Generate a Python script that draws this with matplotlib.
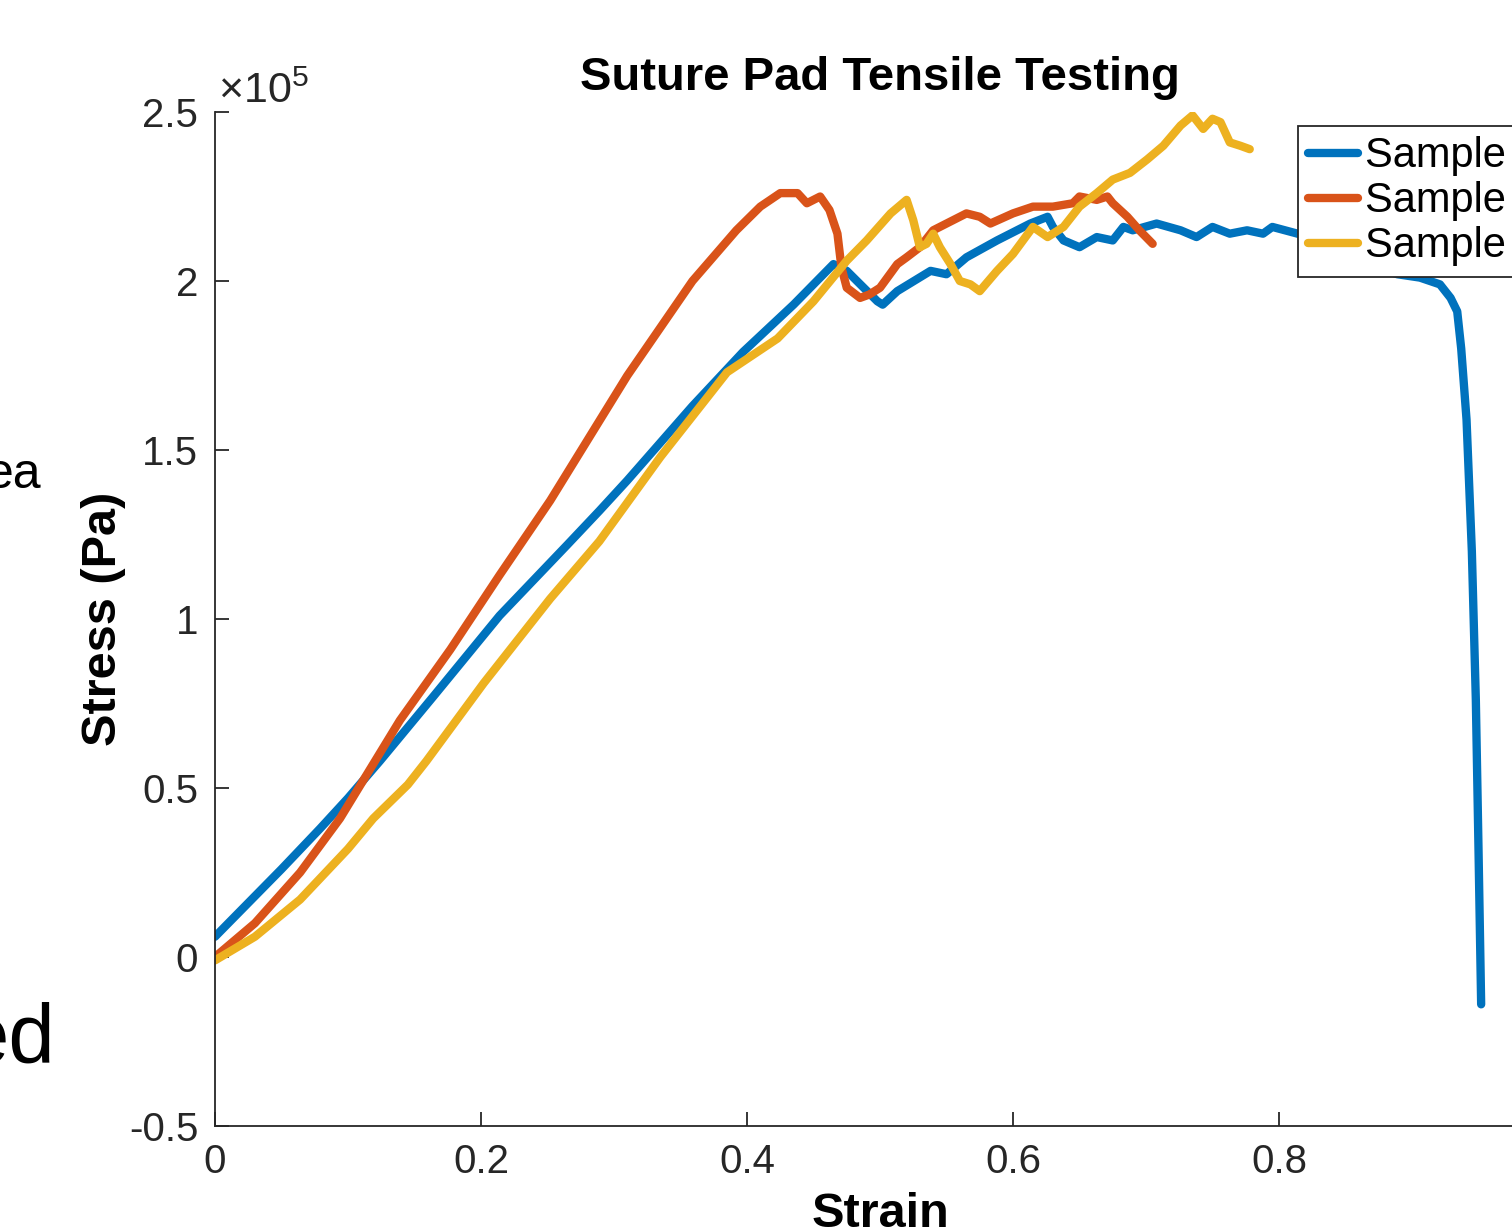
"""Suture pad tensile test: stress-strain curves for three samples."""

import matplotlib
matplotlib.use("Agg")
import matplotlib.pyplot as plt

plt.rcParams["font.family"] = ["Liberation Sans", "DejaVu Sans"]
plt.rcParams["mathtext.fontset"] = "custom"
plt.rcParams["mathtext.rm"] = "Liberation Sans"

# strain (-) and stress (x1e5 Pa)
s1_strain = [0, 0.02, 0.05, 0.079, 0.10, 0.124, 0.164, 0.214, 0.265, 0.289,
             0.31, 0.359, 0.397, 0.435, 0.465, 0.475, 0.498, 0.502, 0.513, 0.538,
             0.550, 0.565, 0.588, 0.613, 0.626, 0.630, 0.638, 0.650, 0.663, 0.675,
             0.683, 0.690, 0.708, 0.726, 0.738, 0.750, 0.763, 0.776, 0.788, 0.795,
             0.814, 0.84, 0.865, 0.889, 0.906, 0.921, 0.929, 0.934, 0.937, 0.941,
             0.945, 0.948, 0.950, 0.952]
s1_stress = [0.06, 0.14, 0.26, 0.38, 0.47, 0.58, 0.77, 1.01, 1.22, 1.32,
             1.41, 1.63, 1.79, 1.93, 2.05, 2.03, 1.94, 1.93, 1.97, 2.03,
             2.02, 2.07, 2.12, 2.17, 2.19, 2.16, 2.12, 2.10, 2.13, 2.12,
             2.16, 2.15, 2.17, 2.15, 2.13, 2.16, 2.14, 2.15, 2.14, 2.16,
             2.14, 2.10, 2.05, 2.02, 2.01, 1.99, 1.95, 1.91, 1.80, 1.59,
             1.20, 0.76, 0.32, -0.14]

s2_strain = [0, 0.03, 0.064, 0.094, 0.139, 0.177, 0.214, 0.252, 0.310, 0.359,
             0.392, 0.41, 0.425, 0.438, 0.445, 0.455, 0.462, 0.468, 0.471, 0.475,
             0.485, 0.492, 0.500, 0.513, 0.520, 0.530, 0.540, 0.550, 0.565, 0.575,
             0.583, 0.600, 0.615, 0.630, 0.645, 0.650, 0.663, 0.671, 0.675, 0.686,
             0.695, 0.705]
s2_stress = [0.0, 0.10, 0.25, 0.41, 0.70, 0.91, 1.13, 1.35, 1.72, 2.00,
             2.15, 2.22, 2.26, 2.26, 2.23, 2.25, 2.21, 2.14, 2.04, 1.98,
             1.95, 1.96, 1.98, 2.05, 2.07, 2.10, 2.15, 2.17, 2.20, 2.19,
             2.17, 2.20, 2.22, 2.22, 2.23, 2.25, 2.24, 2.25, 2.23, 2.19,
             2.15, 2.11]

s3_strain = [0, 0.03, 0.064, 0.10, 0.119, 0.145, 0.159, 0.202, 0.252, 0.289,
             0.335, 0.385, 0.423, 0.450, 0.475, 0.490, 0.508, 0.520, 0.525, 0.530,
             0.535, 0.540, 0.545, 0.553, 0.560, 0.568, 0.575, 0.588, 0.600, 0.615,
             0.626, 0.638, 0.650, 0.663, 0.675, 0.688, 0.701, 0.713, 0.726, 0.735,
             0.743, 0.750, 0.756, 0.763, 0.771, 0.778]
s3_stress = [-0.01, 0.06, 0.17, 0.32, 0.41, 0.51, 0.58, 0.81, 1.06, 1.23,
             1.48, 1.73, 1.83, 1.94, 2.06, 2.12, 2.20, 2.24, 2.18, 2.10,
             2.11, 2.14, 2.10, 2.05, 2.00, 1.99, 1.97, 2.03, 2.08, 2.16,
             2.13, 2.16, 2.22, 2.26, 2.30, 2.32, 2.36, 2.40, 2.46, 2.49,
             2.45, 2.48, 2.47, 2.41, 2.40, 2.39]

labels = ["Sample 1", "Sample 2", "Sample 3"]
colours = ["#0072BD", "#D95319", "#EDB120"]

x_ticks = [0, 0.2, 0.4, 0.6, 0.8, 1.0]
x_tick_labels = ["0", "0.2", "0.4", "0.6", "0.8", "1"]
y_ticks = [-0.5, 0, 0.5, 1, 1.5, 2, 2.5]
y_tick_labels = ["-0.5", "0", "0.5", "1", "1.5", "2", "2.5"]

W, H = 1512, 1232
fig = plt.figure(figsize=(W / 100, H / 100), dpi=100)
# axes run past the right edge of the (cropped) image
ax = fig.add_axes([215 / W, 106 / H, 1330 / W, 1014 / H])

axis_col = "#262626"
for xs, ys, lab, c in zip([s1_strain, s2_strain, s3_strain],
                          [s1_stress, s2_stress, s3_stress], labels, colours):
    ax.plot(xs, ys, color=c, lw=6, label=lab,
            solid_joinstyle="round", solid_capstyle="round")

ax.set_xlim(0, 1)
ax.set_ylim(-0.5, 2.5)
ax.set_xticks(x_ticks)
ax.set_xticklabels(x_tick_labels)
ax.set_yticks(y_ticks)
ax.set_yticklabels(y_tick_labels)
ax.spines["top"].set_visible(False)
ax.spines["right"].set_visible(False)
for sp in ("left", "bottom"):
    ax.spines[sp].set_color(axis_col)
    ax.spines[sp].set_linewidth(1.3)
ax.tick_params(direction="in", length=10, width=1.3, colors=axis_col,
               labelsize=29, pad=12)

ax.set_title("Suture Pad Tensile Testing", fontsize=34, fontweight="bold",
             pad=16)
ax.set_xlabel("Strain", fontsize=35, fontweight="bold", labelpad=8)
ax.set_ylabel("Stress (Pa)", fontsize=35, fontweight="bold", labelpad=2)

fig.text(218 / W, 1 - 103 / H, r"$\times10^{5}$", fontsize=31,
         color=axis_col, va="baseline", ha="left")

leg = fig.legend(loc="upper left", bbox_to_anchor=(1298 / W, 1 - 126 / H),
                 fontsize=30, frameon=True, fancybox=False, framealpha=1,
                 handlelength=1.2, handletextpad=0.15, borderpad=0.25,
                 labelspacing=0.12, borderaxespad=0)
leg.get_frame().set_edgecolor(axis_col)
leg.get_frame().set_linewidth(1.3)
for line in leg.get_lines():
    line.set_linewidth(6)

# fragments of slide text left of the figure
fig.text(42 / W, 1 - 488 / H, "ea", fontsize=36, ha="right", va="baseline")
fig.text(55 / W, 1 - 1063 / H, "ed", fontsize=60, ha="right", va="baseline")

fig.savefig("out.png", dpi=100)
